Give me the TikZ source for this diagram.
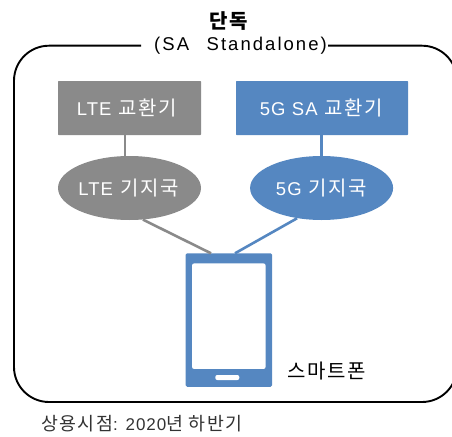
\documentclass[tikz,border=0pt]{standalone}
\usepackage{fontspec}
\setmainfont[LetterSpace=6]{Liberation Sans}
\newfontfamily\cjk[LetterSpace=8,Scale=1.08]{Noto Sans CJK KR}
\definecolor{bluefill}{HTML}{5587C1}
\definecolor{grayfill}{HTML}{8A8A8A}
\tikzset{
  exbox/.style={rectangle,draw=none,rounded corners=0.7pt,inner sep=0pt,text=white,font=\fontsize{18.5}{22}\selectfont},
  bsell/.style={ellipse,draw=none,inner sep=0pt,text=white,font=\fontsize{18.5}{22}\selectfont},
  graylink/.style={draw=grayfill,line width=2.6pt},
  bluelink/.style={draw=bluefill,line width=2.6pt},
  lbl/.style={inner sep=0pt,text=black}
}
\usetikzlibrary{shapes.geometric}
\begin{document}
\begin{tikzpicture}[x=1pt,y=-1pt]
\useasboundingbox (0,0) rectangle (452,436);
\clip (0,0) rectangle (452,436);
% outer frame
\draw[line width=1.9pt,rounded corners=35pt] (141,45.7) -- (14,45.7) -- (14,402) -- (457,402) -- (457,45.7) -- (328,45.7);
\node[lbl,font=\fontsize{18.5}{22}\selectfont] (title) at (228.5,21) {\cjk\bfseries 단독};
\node[lbl,font=\fontsize{18.5}{22}\selectfont\addfontfeature{LetterSpace=11}] (sub) at (240.5,46) {(SA\hspace{0.95em}Standalone)};
% nodes
\node[exbox,fill=grayfill,minimum width=143pt,minimum height=54pt] (lteex) at (129.5,108) {\hspace{-5pt}LTE\hspace{1pt} {\cjk 교환기}};
\node[exbox,fill=bluefill,minimum width=172pt,minimum height=54pt] (gex) at (322,108) {\hspace{-1pt}5G SA\hspace{1pt} {\cjk 교환기}};
\node[bsell,fill=grayfill,minimum width=143pt,minimum height=64pt] (ltebs) at (129.5,188) {\hspace{-2pt}LTE\hspace{1pt} {\cjk 기지국}};
\node[bsell,fill=bluefill,minimum width=143pt,minimum height=64pt] (gbs) at (321.6,188) {5G\hspace{1pt} {\cjk 기지국}};
% phone
\node[rectangle,fill=bluefill,rounded corners=1.5pt,minimum width=86.5pt,minimum height=133.5pt,inner sep=0pt] (phone) at (228.8,320) {};
\node[rectangle,fill=white,rounded corners=2pt,minimum width=73.5pt,minimum height=105.5pt,inner sep=0pt] (screen) at (228.8,316.2) {};
\node[rectangle,fill=white,rounded corners=2pt,minimum width=24pt,minimum height=5pt,inner sep=0pt] (homebtn) at (227.3,377.5) {};
\coordinate (ltein) at (211,253.3);
\coordinate (gin) at (235,253.3);
% connectors
\draw[graylink] ([xshift=-4.5pt]lteex.south) -- ([xshift=-4.5pt]ltebs.north);
\draw[bluelink] (gbs.north |- gex.south) -- (gbs.north);
\draw[graylink] (ltebs.293) -- (ltein);
\draw[bluelink] (gbs.231) -- (gin);
% labels
\node[lbl,font=\fontsize{18.5}{22}\selectfont] (smart) at (326.5,371) {\cjk 스마트폰};
\node[lbl,anchor=west,text=black!80,font=\fontsize{17}{20}\selectfont] (when) at (41,424) {{\cjk 상용시점}: 2020{\cjk 년 하반기}};
\end{tikzpicture}
\end{document}
